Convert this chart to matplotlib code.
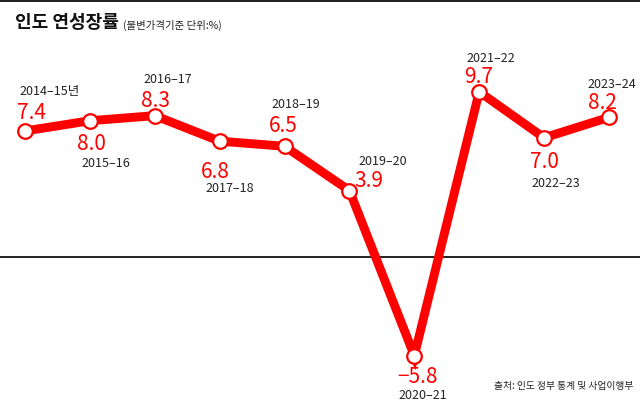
import matplotlib
matplotlib.use("Agg")
import matplotlib.pyplot as plt
from matplotlib.patches import Rectangle

plt.rcParams['font.family'] = ['Noto Sans CJK KR', 'DejaVu Sans']

# Data
years = ["2014–15년", "2015–16", "2016–17", "2017–18", "2018–19",
         "2019–20", "2020–21", "2021–22", "2022–23", "2023–24"]
growth = [7.4, 8.0, 8.3, 6.8, 6.5, 3.9, -5.8, 9.7, 7.0, 8.2]
value_labels = ["7.4", "8.0", "8.3", "6.8", "6.5", "3.9", "−5.8", "9.7", "7.0", "8.2"]

# label offsets (pixels) relative to each point: (value dx, dy), (year dx, dy)
value_off = [(6, 19), (2, -22), (1, 16), (-4, -30), (-1, 21),
             (19, 11), (3, -20), (-1, 16), (0, -23), (-7, 15)]
year_off = [(25, 40), (16, -42), (13, 37), (10, -46), (11, 43),
            (33, 30), (9, -39), (12, 34), (12, -45), (3, 34)]

RED = "#ff0000"

fig = plt.figure(figsize=(6.4, 4.1), dpi=100)
ax = fig.add_axes([0, 0, 1, 1])
ax.set_axis_off()

x = list(range(len(growth)))
ax.set_xlim(-0.385, 9.478)
ax.set_ylim(-8.93, 15.15)

ax.axhline(0, color="#111111", lw=1.3, zorder=1)
ax.plot(x, growth, color=RED, lw=6.4, solid_joinstyle="miter", zorder=2)
ax.plot(x, growth, ls="none", marker="o", ms=10.5, mfc="white", mec=RED,
        mew=1.6, zorder=3)

for i, (v, lab, yr) in enumerate(zip(growth, value_labels, years)):
    ax.annotate(lab, (i, v), xytext=value_off[i], textcoords="offset pixels",
                ha="center", va="center", color=RED, fontsize=15, zorder=4)
    ax.annotate(yr, (i, v), xytext=year_off[i], textcoords="offset pixels",
                ha="center", va="center", color="#222222", fontsize=9, zorder=4)

# top border
fig.patches.append(Rectangle((0, 1 - 3 / 410), 1, 3 / 410, transform=fig.transFigure,
                             facecolor="#222222", edgecolor="none"))

fig.text(15 / 640, 1 - 22 / 410, "인도 연성장률", fontsize=13, fontweight="bold",
         color="#111111", ha="left", va="center")
fig.text(123 / 640, 1 - 25 / 410, "(불변가격기준 단위:%)", fontsize=7.5,
         color="#222222", ha="left", va="center")
fig.text(633 / 640, 1 - 386 / 410, "출처: 인도 정부 통계 및 사업이행부", fontsize=7,
         color="#222222", ha="right", va="center")

fig.savefig("out.png", dpi=100)
